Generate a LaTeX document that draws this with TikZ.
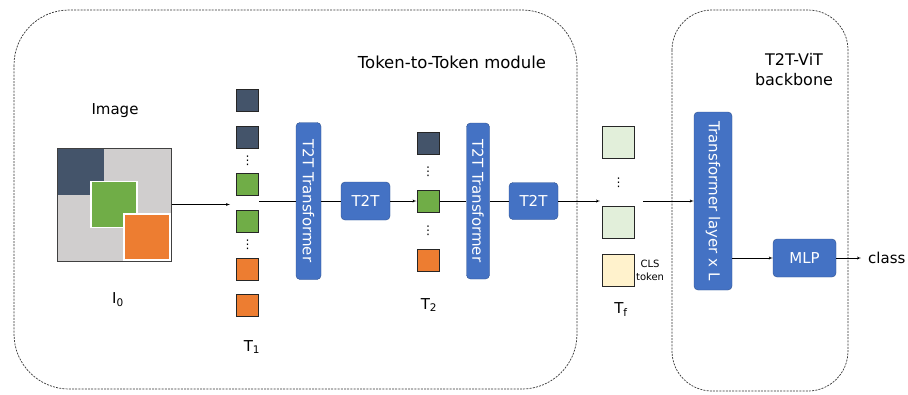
\documentclass[tikz,border=0pt]{standalone}
\usepackage{fontspec}
\setmainfont{DejaVu Sans}
\usepackage{graphicx}
\usetikzlibrary{shapes,arrows,positioning,calc}

\definecolor{bluebox}{HTML}{4472C4}
\definecolor{blueedge}{HTML}{2F528F}
\definecolor{tokdark}{HTML}{44546A}
\definecolor{tokgreen}{HTML}{70AD47}
\definecolor{tokorange}{HTML}{ED7D31}
\definecolor{imggrey}{HTML}{D0CECE}
\definecolor{toklight}{HTML}{E2EFDA}
\definecolor{tokcls}{HTML}{FFF2CC}

\begin{document}
\begin{tikzpicture}[x=1pt,y=-1pt,font=\fontsize{15}{18}\selectfont]

\tikzstyle{token} = [rectangle, draw=black!85, line width=1pt, minimum size=22pt, inner sep=0pt]
\tikzstyle{bigtoken} = [token, line width=0.8pt, minimum size=32pt]
\tikzstyle{block} = [rectangle, draw=blueedge, fill=bluebox, text=white, rounded corners=4pt, inner sep=0pt]
\tikzstyle{vdotsn} = [inner sep=0pt, font=\fontsize{12}{12}\selectfont]
\tikzstyle{line} = [draw, -latex']
\tikzstyle{plain} = [draw]
\tikzstyle{module} = [draw=black!80, line width=0.7pt, dash pattern=on 2pt off 1.2pt]

\useasboundingbox (0,0) rectangle (908,394);

% dashed modules
\draw [module, rounded corners=55pt] (14,10) rectangle (577,389);
\draw [module, rounded corners=40pt] (672,10) rectangle (848,391);
\node [font=\fontsize{16.5}{18}\selectfont] (t2tlab) at (452,62) {Token-to-Token module};
\node [align=center, font=\fontsize{16}{20}\selectfont] (vitlab) at (794,70) {T2T-ViT\\backbone};

% image
\node (imglab) at (115,111) {Image};
\node [rectangle, draw=black!75, fill=imggrey, line width=1pt, minimum width=114pt, minimum height=113pt, inner sep=0pt] (img) at (114,204.5) {};
\node [rectangle, fill=tokdark, minimum size=46pt, inner sep=0pt] (imgdark) at (80.5,171.5) {};
\node [rectangle, draw=white, fill=tokgreen, line width=1.2pt, minimum size=46pt, inner sep=0pt] (imggreen) at (114,204.5) {};
\node [rectangle, draw=white, fill=tokorange, line width=1.2pt, minimum size=46pt, inner sep=0pt] (imgorange) at (147,237) {};
\node (i0lab) at (118,300) {I\textsubscript{0}};

% T1 tokens
\node [token, fill=tokdark] (t11) at (247.5,100) {};
\node [token, fill=tokdark, below=14pt of t11] (t12) {};
\node [token, fill=tokgreen, below=24pt of t12] (t13) {};
\node [token, fill=tokgreen, below=14pt of t13] (t14) {};
\node [token, fill=tokorange, below=25pt of t14] (t15) {};
\node [token, fill=tokorange, below=13pt of t15] (t16) {};
\node [vdotsn] (d11) at ($(t12)!0.5!(t13)$) {\symbol{"22EE}};
\node [vdotsn] (d12) at ($(t14)!0.5!(t15)$) {\symbol{"22EE}};
\node (t1lab) at (252,347) {T\textsubscript{1}};
\coordinate (t1in) at (230,204.5);
\coordinate (t1out) at (259,201);

% first T2T step
\node [block, minimum width=25pt, minimum height=157pt] (tr1) at (308.5,201) {\rotatebox{-90}{T2T Transformer}};
\node [block, minimum width=49pt, minimum height=38pt] (t2t1) at (365.5,201) {T2T};

% T2 tokens
\node [token, fill=tokgreen] (t22) at (428,201) {};
\node [token, fill=tokdark, above=35pt of t22] (t21) {};
\node [token, fill=tokorange, below=36pt of t22] (t23) {};
\node [vdotsn] (d21) at ($(t21)!0.5!(t22)$) {\symbol{"22EE}};
\node [vdotsn] (d22) at ($(t22)!0.5!(t23)$) {\symbol{"22EE}};
\node (t2lab) at (429,305) {T\textsubscript{2}};

% second T2T step
\node [block, minimum width=23pt, minimum height=156pt] (tr2) at (478,201) {\rotatebox{-90}{T2T Transformer}};
\node [block, minimum width=49pt, minimum height=37pt] (t2t2) at (533.5,201) {T2T};

% Tf tokens
\node [bigtoken, fill=toklight] (tf1) at (618.5,142) {};
\node [bigtoken, fill=toklight, below=48pt of tf1] (tf2) {};
\node [bigtoken, fill=tokcls, below=15pt of tf2] (tf3) {};
\node [vdotsn] (dtf) at ($(tf1)!0.5!(tf2)$) {\symbol{"22EE}};
\node [right=1pt of tf3, align=center, inner sep=0pt, font=\fontsize{10}{13}\selectfont] (clslab) {CLS\\token};
\node (tflab) at (621,310) {T\textsubscript{f}};
\coordinate (tfin) at (600,201);
\coordinate (tfout) at (643,201);

% backbone
\node [block, minimum width=38pt, minimum height=178pt] (trl) at (713,201) {\rotatebox{-90}{Transformer layer x L}};
\node [block, minimum width=63pt, minimum height=38pt] (mlp) at (804.5,258) {MLP};
\node [anchor=west, inner sep=0pt] (cls) at (868,258) {class};

% connectors
\path [line] (img.east) -- (t1in);
\path [plain] (t1out) -- (tr1.west);
\path [plain] (tr1.east) -- (t2t1.west);
\path [line] (t2t1.east) -- (t22.west);
\path [plain] (t22.east) -- (tr2.west);
\path [plain] (tr2.east) -- (t2t2.west);
\path [line] (t2t2.east) -- (tfin);
\path [line] (tfout) -- (trl.west);
\path [line] (mlp.west -| trl.east) -- (mlp.west);
\path [line] (mlp.east) -- ([xshift=-7pt]cls.west);
\end{tikzpicture}
\end{document}
